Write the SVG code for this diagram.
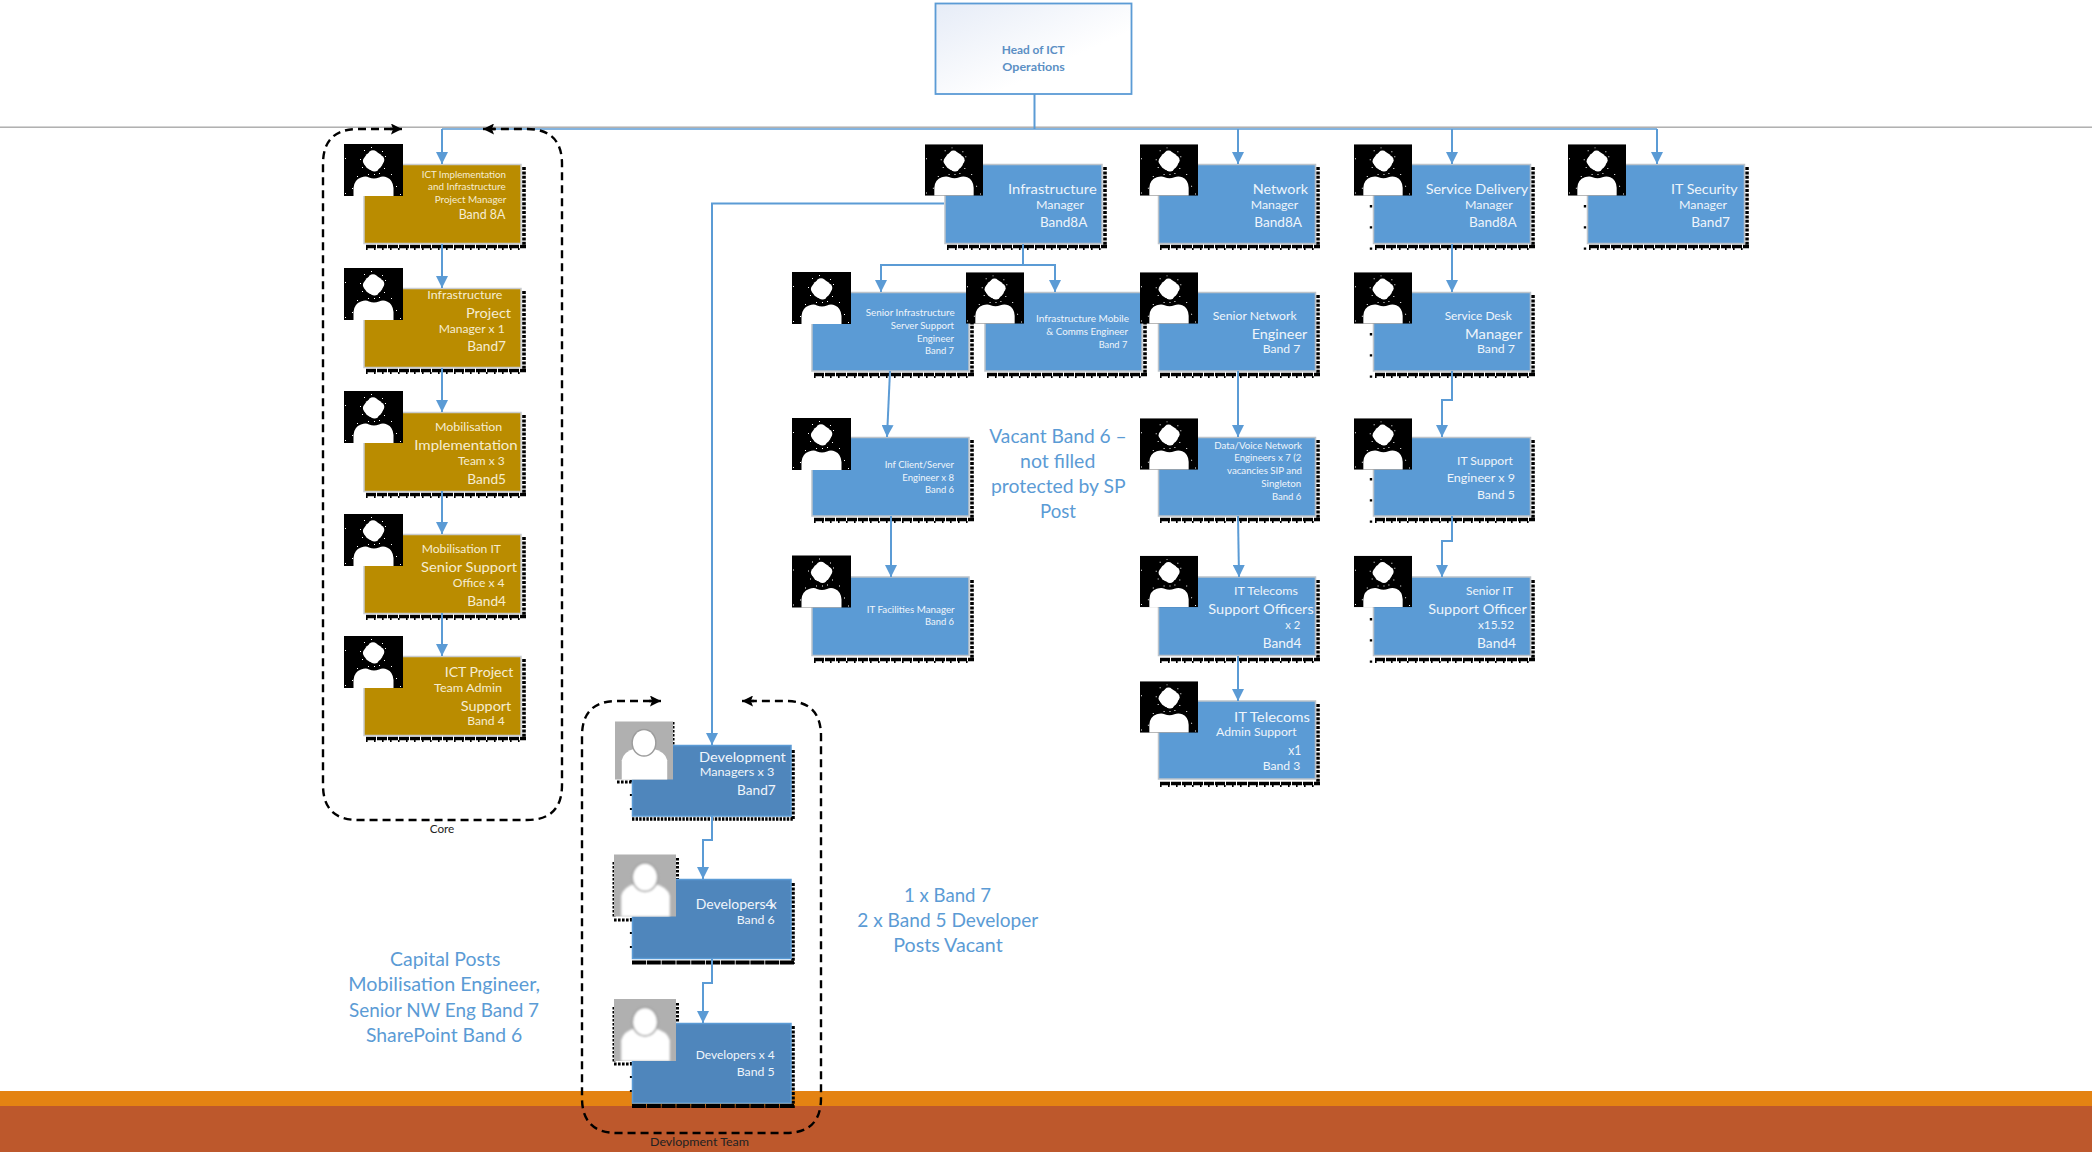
<svg xmlns="http://www.w3.org/2000/svg" width="2092" height="1152" viewBox="0 0 2092 1152">
<style>
text{font-family:"Lato","Carlito","Open Sans","Liberation Sans",sans-serif;fill:#EFF5FB}
.gold text{fill:#F6EDD2}
.t9{font-size:9.8px}.t11{font-size:11.2px}.t12{font-size:12.5px}.t14{font-size:14px}
.free{font-size:19px;fill:#5B9BD5}
.lab{font-size:10.5px;fill:#222}
.head{font-size:11.5px;font-weight:700;fill:#5B8FC4}
.bx{fill:#5B9BD5;stroke:#BCC3CA;stroke-width:1.5}
.bxg{fill:#BA8C00;stroke:#C9CCD0;stroke-width:1.5}
.bxd{fill:#4F86BC;stroke:#5B9BD5;stroke-width:1.5}
.c{fill:none;stroke:#5B9BD5;stroke-width:2;marker-end:url(#ah)}
.cn{fill:none;stroke:#5B9BD5;stroke-width:1.6}
.cv{fill:none;stroke:#5B9BD5;stroke-width:2}
.dash{fill:none;stroke:#000;stroke-width:2.4;stroke-dasharray:8 5}
.dend{fill:none;stroke:#000;stroke-width:2.4;marker-end:url(#dh)}
.s1{fill:none;stroke:#000;stroke-width:3.6;stroke-dasharray:3 1.4}
.s2{fill:none;stroke:#000;stroke-width:3.4;stroke-dasharray:10 1}
.s3{fill:none;stroke:#000;stroke-width:2;stroke-dasharray:1.6 6.4}
.s4{fill:none;stroke:#000;stroke-width:2.4;stroke-dasharray:2.4 18.8}
.s5{fill:none;stroke:#000;stroke-width:3;stroke-dasharray:2.6 1.4}
.s6{fill:none;stroke:#000;stroke-width:3.4;stroke-dasharray:2.4 1.2}
.s7{fill:none;stroke:#000;stroke-width:4;stroke-dasharray:14 .8}
.s8{fill:none;stroke:#000;stroke-width:2.2;stroke-dasharray:2 12}
</style>
<defs>
<marker id="ah" markerUnits="userSpaceOnUse" markerWidth="12" markerHeight="12" refX="12" refY="6" orient="auto"><path d="M0 0L12 6L0 12Z" fill="#5B9BD5"/></marker>
<marker id="dh" markerUnits="userSpaceOnUse" markerWidth="11" markerHeight="11" refX="11" refY="5.5" orient="auto"><path d="M0 0L11 5.5L0 11L2 5.5Z" fill="#000"/></marker>
<linearGradient id="hg" x1="0" y1="0" x2="1" y2="1"><stop offset="0" stop-color="#E6ECF7"/><stop offset=".65" stop-color="#FFFFFF"/></linearGradient>
<filter id="soft" x="-10%" y="-10%" width="120%" height="120%"><feGaussianBlur stdDeviation=".8"/></filter>
<g id="sh">
<path class="s1" d="M160 3V84"/>
<path class="s2" d="M2 82.5H162"/>
<path class="s3" d="M2 85H162"/>
</g>
<g id="shl">
<use href="#sh"/>
<path class="s4" d="M-2 41V86"/>
</g>
<symbol id="pb" viewBox="0 0 59 52">
<rect width="59" height="52" fill="#000"/>
<g fill="#fff">
<circle cx="29.5" cy="17" r="9.6"/><circle cx="29" cy="11" r="4.8"/><circle cx="23.5" cy="17" r="4.6"/><circle cx="35.5" cy="16" r="4.8"/><circle cx="30.5" cy="23" r="4.6"/>
<path d="M9.5 52V44Q10 36 17 33.5Q22 31.5 25 33.5Q30 35.5 35 33.5Q39 31.5 43 33.5Q49 36 49.5 44V52Z"/>
<path d="M20 6h1v1h-1zM38 7h1v1h-1zM18 23h1v1h-1zM41 12h1v1h-1zM40 24h1v1h-1zM24 30h1v1h-1zM30 30h1v1h-1zM35 29h1v1h-1zM13 32h1v1h-1zM47 30h1v1h-1zM8 44h1v1h-1zM52 42h1v1h-1zM1 14h1v1h-1zM56 50h1v1h-1zM1 49h1v1h-1zM27 3h1v1h-1zM16 15h1v1h-1z"/>
</g>
</symbol>
<symbol id="pg" viewBox="0 0 60 60">
<rect width="60" height="60" fill="#B0B0B0"/>
<g filter="url(#soft)">
<path d="M7 60V40Q9 31 21 28L38 28Q52 31 54 40V60Z" fill="#fff"/>
<ellipse cx="30" cy="22" rx="13" ry="14.5" fill="#9C9C9C"/>
<ellipse cx="30" cy="22" rx="11.5" ry="13" fill="#fff"/>
</g>
</symbol>
</defs>

<g id="background">
<rect x="0" y="1091" width="2092" height="15" fill="#E48312"/>
<rect x="0" y="1106" width="2092" height="46" fill="#BD582C"/>
<rect x="0" y="126.5" width="2092" height="1.4" fill="#A9A9A9"/>
</g>

<g id="n-head">
<rect x="935.5" y="3.5" width="196" height="90.5" fill="url(#hg)" stroke="#5B9BD5" stroke-width="1.8"/>
<text class="head" x="1001.7" y="53.7" textLength="63" lengthAdjust="spacingAndGlyphs">Head of ICT</text>
<text class="head" x="1002.3" y="70.7" textLength="62.4" lengthAdjust="spacingAndGlyphs">Operations</text>
</g>

<g id="n-impl" class="gold">
<use href="#sh" x="364" y="164"/><rect class="bxg" x="364" y="164.5" width="157" height="79"/><use href="#pb" x="344" y="144" width="59" height="52"/>
<text class="t9" x="421.7" y="178.3" textLength="84.3" lengthAdjust="spacingAndGlyphs">ICT Implementation</text>
<text class="t9" x="428" y="190" textLength="77.7" lengthAdjust="spacingAndGlyphs">and Infrastructure</text>
<text class="t9" x="434.7" y="202.7" textLength="71.6" lengthAdjust="spacingAndGlyphs">Project Manager</text>
<text class="t12" x="458.7" y="219" textLength="46.6" lengthAdjust="spacingAndGlyphs">Band 8A</text>
</g>
<g id="n-ipm" class="gold">
<use href="#sh" x="364" y="288"/><rect class="bxg" x="364" y="288.5" width="157" height="79"/><use href="#pb" x="344" y="268" width="59" height="52"/>
<text class="t11" x="427.3" y="298.7" textLength="75" lengthAdjust="spacingAndGlyphs">Infrastructure</text>
<text class="t14" x="466" y="317.7" textLength="45" lengthAdjust="spacingAndGlyphs">Project</text>
<text class="t11" x="438.7" y="332.7" textLength="66" lengthAdjust="spacingAndGlyphs">Manager x 1</text>
<text class="t14" x="467.3" y="350.7" textLength="38.7" lengthAdjust="spacingAndGlyphs">Band7</text>
</g>
<g id="n-mob" class="gold">
<use href="#sh" x="364" y="412"/><rect class="bxg" x="364" y="412.5" width="157" height="79"/><use href="#pb" x="344" y="391" width="59" height="52"/>
<text class="t11" x="435" y="430.7" textLength="67.3" lengthAdjust="spacingAndGlyphs">Mobilisation</text>
<text class="t14" x="414.3" y="450" textLength="103.4" lengthAdjust="spacingAndGlyphs">Implementation</text>
<text class="t11" x="458" y="465" textLength="46.7" lengthAdjust="spacingAndGlyphs">Team x 3</text>
<text class="t14" x="467.3" y="484" textLength="38.7" lengthAdjust="spacingAndGlyphs">Band5</text>
</g>
<g id="n-mobit" class="gold">
<use href="#sh" x="364" y="534"/><rect class="bxg" x="364" y="534.5" width="157" height="79"/><use href="#pb" x="344" y="514" width="59" height="52"/>
<text class="t11" x="421.7" y="553" textLength="79.3" lengthAdjust="spacingAndGlyphs">Mobilisation IT</text>
<text class="t14" x="421" y="572" textLength="96" lengthAdjust="spacingAndGlyphs">Senior Support</text>
<text class="t11" x="452.7" y="586.7" textLength="52" lengthAdjust="spacingAndGlyphs">Office x 4</text>
<text class="t14" x="467.3" y="606" textLength="38.7" lengthAdjust="spacingAndGlyphs">Band4</text>
</g>
<g id="n-admin" class="gold">
<use href="#sh" x="364" y="656"/><rect class="bxg" x="364" y="656.5" width="157" height="79"/><use href="#pb" x="344" y="636" width="59" height="52"/>
<text class="t14" x="444.7" y="677" textLength="68.6" lengthAdjust="spacingAndGlyphs">ICT Project</text>
<text class="t11" x="434" y="691.7" textLength="68" lengthAdjust="spacingAndGlyphs">Team Admin</text>
<text class="t14" x="460.7" y="711" textLength="50.6" lengthAdjust="spacingAndGlyphs">Support</text>
<text class="t11" x="467.3" y="724.7" textLength="37.4" lengthAdjust="spacingAndGlyphs">Band 4</text>
</g>

<g id="n-infra">
<use href="#sh" x="945" y="164"/><rect class="bx" x="945" y="164.5" width="157" height="79"/><use href="#pb" x="925" y="144" width="58" height="52"/>
<text class="t14" x="1008" y="194" textLength="88.7" lengthAdjust="spacingAndGlyphs">Infrastructure</text>
<text class="t11" x="1036" y="208.7" textLength="48" lengthAdjust="spacingAndGlyphs">Manager</text>
<text class="t14" x="1040" y="226.7" textLength="47.3" lengthAdjust="spacingAndGlyphs">Band8A</text>
</g>
<g id="n-server">
<use href="#sh" x="812" y="292"/><rect class="bx" x="812" y="292.5" width="157" height="78.5"/><use href="#pb" x="792" y="272" width="59" height="52"/>
<text class="t9" x="865.7" y="316" textLength="89" lengthAdjust="spacingAndGlyphs">Senior Infrastructure</text>
<text class="t9" x="890.7" y="329" textLength="63.3" lengthAdjust="spacingAndGlyphs">Server Support</text>
<text class="t9" x="917" y="342" textLength="37" lengthAdjust="spacingAndGlyphs">Engineer</text>
<text class="t9" x="925" y="354" textLength="29" lengthAdjust="spacingAndGlyphs">Band 7</text>
</g>
<g id="n-mobile">
<use href="#sh" x="985" y="292"/><rect class="bx" x="985" y="292.5" width="157" height="78.5"/><use href="#pb" x="966" y="272" width="58" height="52"/>
<text class="t9" x="1036" y="322" textLength="93" lengthAdjust="spacingAndGlyphs">Infrastructure Mobile</text>
<text class="t9" x="1046.3" y="335" textLength="81.7" lengthAdjust="spacingAndGlyphs">&amp; Comms Engineer</text>
<text class="t9" x="1098.7" y="348" textLength="28.6" lengthAdjust="spacingAndGlyphs">Band 7</text>
</g>
<g id="n-client">
<use href="#sh" x="812" y="437"/><rect class="bx" x="812" y="437.5" width="157" height="78.5"/><use href="#pb" x="792" y="418" width="59" height="52"/>
<text class="t9" x="884.7" y="467.7" textLength="69.3" lengthAdjust="spacingAndGlyphs">Inf Client/Server</text>
<text class="t9" x="902.3" y="481" textLength="51.7" lengthAdjust="spacingAndGlyphs">Engineer x 8</text>
<text class="t9" x="925" y="493" textLength="29" lengthAdjust="spacingAndGlyphs">Band 6</text>
</g>
<g id="n-facilities">
<use href="#sh" x="812" y="577"/><rect class="bx" x="812" y="577" width="157" height="78.5"/><use href="#pb" x="792" y="555" width="59" height="53"/>
<text class="t9" x="866.7" y="613" textLength="88" lengthAdjust="spacingAndGlyphs">IT Facilities Manager</text>
<text class="t9" x="925" y="625" textLength="29" lengthAdjust="spacingAndGlyphs">Band 6</text>
</g>

<g id="n-network">
<use href="#sh" x="1158" y="164"/><rect class="bx" x="1158.5" y="164.5" width="157" height="79"/><use href="#pb" x="1140" y="144" width="58" height="52"/>
<text class="t14" x="1252.7" y="194" textLength="55.3" lengthAdjust="spacingAndGlyphs">Network</text>
<text class="t11" x="1250.7" y="208.7" textLength="47.6" lengthAdjust="spacingAndGlyphs">Manager</text>
<text class="t14" x="1254.3" y="226.7" textLength="47.7" lengthAdjust="spacingAndGlyphs">Band8A</text>
</g>
<g id="n-snetwork">
<use href="#sh" x="1158" y="292"/><rect class="bx" x="1158.5" y="292.5" width="157" height="78.5"/><use href="#pb" x="1140" y="272" width="58" height="52"/>
<text class="t11" x="1212.7" y="319.7" textLength="84" lengthAdjust="spacingAndGlyphs">Senior Network</text>
<text class="t14" x="1251.7" y="338.7" textLength="55.6" lengthAdjust="spacingAndGlyphs">Engineer</text>
<text class="t11" x="1262.7" y="353" textLength="37.6" lengthAdjust="spacingAndGlyphs">Band 7</text>
</g>
<g id="n-datavoice">
<use href="#sh" x="1158" y="437"/><rect class="bx" x="1158.5" y="437.5" width="157" height="78.5"/><use href="#pb" x="1140" y="418" width="58" height="52"/>
<text class="t9" x="1214.3" y="449" textLength="87.7" lengthAdjust="spacingAndGlyphs">Data/Voice Network</text>
<text class="t9" x="1234.3" y="461.3" textLength="67" lengthAdjust="spacingAndGlyphs">Engineers x 7 (2</text>
<text class="t9" x="1227" y="474" textLength="75" lengthAdjust="spacingAndGlyphs">vacancies SIP and</text>
<text class="t9" x="1261.3" y="487" textLength="40" lengthAdjust="spacingAndGlyphs">Singleton</text>
<text class="t9" x="1272" y="500" textLength="29.3" lengthAdjust="spacingAndGlyphs">Band 6</text>
</g>
<g id="n-telecoms">
<use href="#sh" x="1158" y="577"/><rect class="bx" x="1158.5" y="577" width="157" height="78.5"/><use href="#pb" x="1140" y="555" width="58" height="53"/>
<text class="t11" x="1234" y="595" textLength="64" lengthAdjust="spacingAndGlyphs">IT Telecoms</text>
<text class="t14" x="1208.3" y="613.7" textLength="105.4" lengthAdjust="spacingAndGlyphs">Support Officers</text>
<text class="t11" x="1285.3" y="628.7" textLength="15" lengthAdjust="spacingAndGlyphs">x 2</text>
<text class="t14" x="1262.7" y="648" textLength="38.6" lengthAdjust="spacingAndGlyphs">Band4</text>
</g>
<g id="n-teladmin">
<use href="#sh" x="1158" y="701"/><rect class="bx" x="1158.5" y="701" width="157" height="78"/><use href="#pb" x="1140" y="681" width="58" height="52"/>
<text class="t14" x="1234" y="722" textLength="76" lengthAdjust="spacingAndGlyphs">IT Telecoms</text>
<text class="t11" x="1216" y="735.7" textLength="80.7" lengthAdjust="spacingAndGlyphs">Admin Support</text>
<text class="t14" x="1288.3" y="755" textLength="13" lengthAdjust="spacingAndGlyphs">x1</text>
<text class="t11" x="1262.7" y="770" textLength="37.6" lengthAdjust="spacingAndGlyphs">Band 3</text>
</g>

<g id="n-service">
<use href="#shl" x="1373" y="164"/><rect class="bx" x="1373.5" y="164.5" width="157" height="79"/><use href="#pb" x="1354" y="144" width="58" height="52"/>
<text class="t14" x="1425.7" y="194" textLength="102.6" lengthAdjust="spacingAndGlyphs">Service Delivery</text>
<text class="t11" x="1465" y="208.7" textLength="47.7" lengthAdjust="spacingAndGlyphs">Manager</text>
<text class="t14" x="1469" y="226.7" textLength="47.7" lengthAdjust="spacingAndGlyphs">Band8A</text>
</g>
<g id="n-desk">
<use href="#shl" x="1373" y="292"/><rect class="bx" x="1373.5" y="292.5" width="157" height="78.5"/><use href="#pb" x="1354" y="272" width="58" height="52"/>
<text class="t11" x="1444.7" y="319.7" textLength="67" lengthAdjust="spacingAndGlyphs">Service Desk</text>
<text class="t14" x="1465" y="338.7" textLength="57.3" lengthAdjust="spacingAndGlyphs">Manager</text>
<text class="t11" x="1477" y="353" textLength="38" lengthAdjust="spacingAndGlyphs">Band 7</text>
</g>
<g id="n-support">
<use href="#shl" x="1373" y="437"/><rect class="bx" x="1373.5" y="437.5" width="157" height="78.5"/><use href="#pb" x="1354" y="418" width="58" height="52"/>
<text class="t11" x="1457" y="465" textLength="56" lengthAdjust="spacingAndGlyphs">IT Support</text>
<text class="t11" x="1446.7" y="482" textLength="68.3" lengthAdjust="spacingAndGlyphs">Engineer x 9</text>
<text class="t11" x="1477" y="499" textLength="38" lengthAdjust="spacingAndGlyphs">Band 5</text>
</g>
<g id="n-senior">
<use href="#shl" x="1373" y="577"/><rect class="bx" x="1373.5" y="577" width="157" height="78.5"/><use href="#pb" x="1354" y="555" width="58" height="53"/>
<text class="t11" x="1466" y="595" textLength="47" lengthAdjust="spacingAndGlyphs">Senior IT</text>
<text class="t14" x="1428.3" y="613.7" textLength="98.4" lengthAdjust="spacingAndGlyphs">Support Officer</text>
<text class="t11" x="1478" y="628.7" textLength="36" lengthAdjust="spacingAndGlyphs">x15.52</text>
<text class="t14" x="1477" y="648" textLength="39" lengthAdjust="spacingAndGlyphs">Band4</text>
</g>
<g id="n-security">
<use href="#shl" x="1587" y="164"/><rect class="bx" x="1587.5" y="164.5" width="157" height="79"/><use href="#pb" x="1568" y="144" width="58" height="52"/>
<text class="t14" x="1671" y="194" textLength="66.7" lengthAdjust="spacingAndGlyphs">IT Security</text>
<text class="t11" x="1679" y="208.7" textLength="48" lengthAdjust="spacingAndGlyphs">Manager</text>
<text class="t14" x="1691.3" y="226.7" textLength="38.7" lengthAdjust="spacingAndGlyphs">Band7</text>
</g>

<g id="n-dev1">
<path class="s1" d="M793 750V820"/><path class="s6" d="M632 819H794"/><path class="s8" d="M631 780V816"/><path class="s5" d="M617 782H632M673 722V745"/>
<rect class="bxd" x="632.5" y="745.5" width="158.5" height="70.5"/>
<use href="#pg" x="615" y="721" width="58" height="59"/>
<text class="t14" x="699" y="761.7" textLength="86.7" lengthAdjust="spacingAndGlyphs">Development</text>
<text class="t11" x="699.7" y="776" textLength="74.6" lengthAdjust="spacingAndGlyphs">Managers x 3</text>
<text class="t14" x="737" y="794.7" textLength="38.7" lengthAdjust="spacingAndGlyphs">Band7</text>
</g>
<g id="n-dev2">
<path class="s1" d="M793 883V964"/><path class="s7" d="M632 962.5H794"/><path class="s8" d="M631 918V960"/><path class="s5" d="M677.5 858V879M614 862V918M614 920H632"/>
<rect class="bxd" x="632.5" y="879.5" width="158.5" height="79"/>
<use href="#pg" x="614" y="854" width="62" height="63"/>
<text class="t14" x="695.7" y="908.7">Developers4<tspan dx="-4">x</tspan></text>
<text class="t11" x="736.7" y="923.7" textLength="38" lengthAdjust="spacingAndGlyphs">Band 6</text>
</g>
<g id="n-dev3">
<path class="s1" d="M793 1026V1108"/><path class="s7" d="M632 1106H794"/><path class="s8" d="M631 1062V1104"/><path class="s5" d="M677.5 1003V1023M614 1007V1062M614 1064H632"/>
<rect class="bxd" x="632.5" y="1023.5" width="158.5" height="79.5"/>
<use href="#pg" x="614" y="999" width="62" height="62"/>
<text class="t11" x="695.7" y="1058.7" textLength="79" lengthAdjust="spacingAndGlyphs">Developers x 4</text>
<text class="t11" x="736.7" y="1075.7" textLength="38" lengthAdjust="spacingAndGlyphs">Band 5</text>
</g>

<g id="connectors">
<path class="cn" d="M442 129H1657"/>
<path class="cv" d="M1034.5 94V129"/>
<path class="c" d="M442 129V164"/>
<path class="c" d="M1238 129V164"/>
<path class="c" d="M1452 129V164"/>
<path class="c" d="M1657 129V164"/>
<path class="c" d="M442 244V288"/>
<path class="c" d="M442 368V412"/>
<path class="c" d="M442 491V534"/>
<path class="c" d="M442 613V656"/>
<path class="c" d="M944 203.5H712V745"/>
<path class="c" d="M1023 244V265H881V292"/>
<path class="c" d="M1023 265H1055V292"/>
<path class="c" d="M890 371L887 437"/>
<path class="c" d="M891 516V577"/>
<path class="c" d="M1238 371V437"/>
<path class="c" d="M1238 516L1239 577"/>
<path class="c" d="M1238 656V701"/>
<path class="c" d="M1452 244V292"/>
<path class="c" d="M1452 371V400H1442V437"/>
<path class="c" d="M1452 516V541H1442V577"/>
<path class="c" d="M712 816V840H703V879"/>
<path class="c" d="M712 959V983H703V1023"/>
</g>

<g id="core-group">
<path class="dash" d="M392 129H358Q323 129 323 164V785Q323 820 358 820H527Q562 820 562 785V164Q562 129 527 129H493"/>
<path class="dend" d="M390 129H402"/>
<path class="dend" d="M495 129H483"/>
<text class="lab" x="429.7" y="832.7" textLength="24.6" lengthAdjust="spacingAndGlyphs">Core</text>
</g>
<g id="dev-group">
<path class="dash" d="M651 701H617Q582 701 582 736V1098Q582 1133 617 1133H786Q821 1133 821 1098V736Q821 701 786 701H752"/>
<path class="dend" d="M649 701H661"/>
<path class="dend" d="M754 701H742"/>
<text class="lab" x="650" y="1145.7" textLength="99" lengthAdjust="spacingAndGlyphs">Devlopment Team</text>
</g>

<g id="notes">
<text class="free" x="989.3" y="442.7" textLength="137.4" lengthAdjust="spacingAndGlyphs">Vacant Band 6 –</text>
<text class="free" x="1020" y="468" textLength="75.3" lengthAdjust="spacingAndGlyphs">not filled</text>
<text class="free" x="991" y="492.7" textLength="134.7" lengthAdjust="spacingAndGlyphs">protected by SP</text>
<text class="free" x="1040" y="518" textLength="36" lengthAdjust="spacingAndGlyphs">Post</text>
<text class="free" x="904" y="901.7" textLength="87" lengthAdjust="spacingAndGlyphs">1 x Band 7</text>
<text class="free" x="857.3" y="927.3" textLength="181" lengthAdjust="spacingAndGlyphs">2 x Band 5 Developer</text>
<text class="free" x="893.3" y="951.7" textLength="109.4" lengthAdjust="spacingAndGlyphs">Posts Vacant</text>
<text class="free" x="390" y="966" textLength="110.3" lengthAdjust="spacingAndGlyphs">Capital Posts</text>
<text class="free" x="348.3" y="991" textLength="191.7" lengthAdjust="spacingAndGlyphs">Mobilisation Engineer,</text>
<text class="free" x="349" y="1016.7" textLength="190" lengthAdjust="spacingAndGlyphs">Senior NW Eng Band 7</text>
<text class="free" x="366" y="1041.7" textLength="156.3" lengthAdjust="spacingAndGlyphs">SharePoint Band 6</text>
</g>
</svg>
